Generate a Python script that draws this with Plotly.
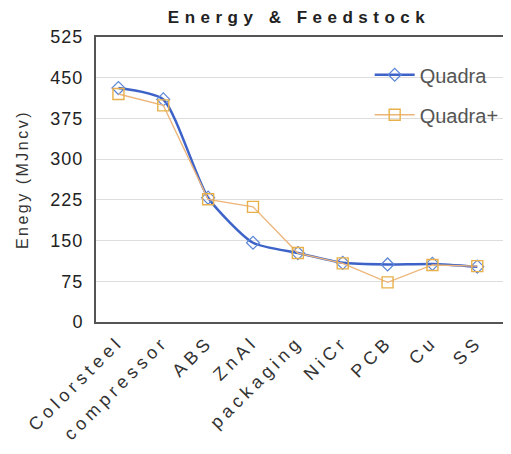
import plotly.graph_objects as go

categories = ["Colorsteel", "compressor", "ABS", "ZnAl", "packaging", "NiCr", "PCB", "Cu", "SS"]
quadra = [431, 410, 229, 146, 127, 109, 106, 107, 102]
quadra_plus = [420, 399, 226, 212, 127, 108, 73, 105, 103]
y_ticks = [0, 75, 150, 225, 300, 375, 450, 525]

fig = go.Figure()
fig.add_trace(go.Scatter(
    x=categories, y=quadra, name="Quadra", mode="lines+markers", legendgroup="a",
    line=dict(color="#3E63C8", width=2.5, shape="spline", smoothing=0.6),
    marker=dict(symbol="diamond-open", size=10, color="#5B86D8", line=dict(width=1.2)),
))
fig.add_trace(go.Scatter(
    x=categories, y=quadra_plus, name="Quadra+", mode="lines+markers", legendgroup="b",
    line=dict(color="#EDB57A", width=1.3),
    marker=dict(symbol="square-open", size=11, color="#E8B04A", line=dict(width=1.4)),
))

fig.update_layout(
    width=511, height=454,
    margin=dict(l=88, r=0, t=29, b=140, autoexpand=False),
    paper_bgcolor="white", plot_bgcolor="white",
    font=dict(family="Liberation Sans, Arial, sans-serif", color="#222222", size=16),
    title=dict(text="<b>Energy & Feedstock</b>", x=0.48, xref="paper", xanchor="center",
               y=0.980, yanchor="middle", font=dict(size=17, color="#222222")),
    legend=dict(x=0.647, y=0.936, xanchor="left", yanchor="top", bgcolor="rgba(255,255,255,0)",
                font=dict(size=20, color="#555555"), tracegroupgap=11, itemwidth=40,
                traceorder="grouped"),
    showlegend=True,
)
fig.update_xaxes(
    range=[-0.5, 8.93], showgrid=False, showline=True, linecolor="#555555", linewidth=2,
    mirror=True, ticks="", tickangle=-45, tickfont=dict(size=18, color="#333333"),
    automargin=False,
)
fig.update_yaxes(
    range=[0, 525], tickvals=y_ticks, showgrid=True, gridcolor="#DDDDDD", gridwidth=1,
    showline=True, linecolor="#555555", linewidth=2, ticks="", zeroline=False,
    tickfont=dict(size=18, color="#222222"), automargin=False, ticklabelstandoff=7,
    title=dict(text="Enegy (MJncv)", font=dict(size=16, color="#333333"), standoff=21),
)

post = """
var t = document.querySelector('.gtitle');
if (t) { t.style.letterSpacing = '5.5px'; }
document.querySelectorAll('.xtick text').forEach(function(e){ e.style.letterSpacing = '4.5px'; });
document.querySelectorAll('.ytick text').forEach(function(e){ e.style.letterSpacing = '1px'; });
document.querySelectorAll('.ytitle').forEach(function(e){ e.style.letterSpacing = '2.5px'; });
"""
fig.write_html("out.html", post_script=post)
